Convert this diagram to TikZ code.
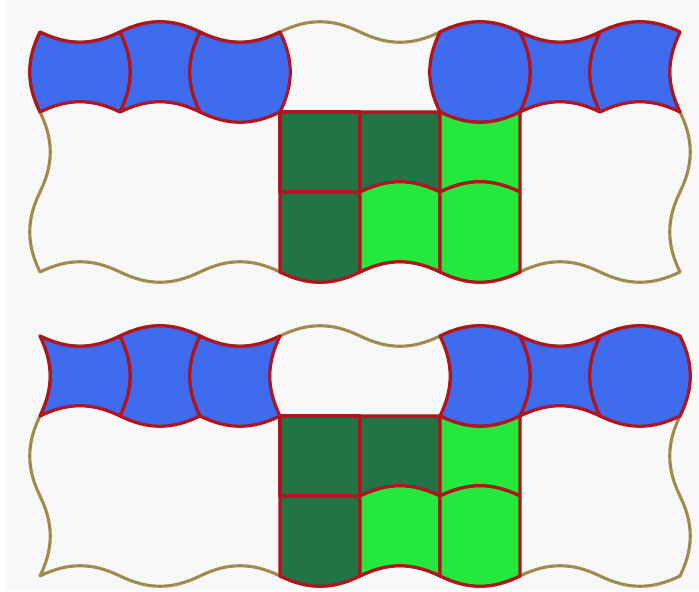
\documentclass[tikz,border=0pt]{standalone}
\usepackage{tikz}
\definecolor{tileBlue}{HTML}{3F6BEF}
\definecolor{darkGreen}{HTML}{237444}
\definecolor{lightGreen}{HTML}{24E83C}
\definecolor{edgeRed}{HTML}{B0141E}
\definecolor{rimTan}{HTML}{A28A4C}
\definecolor{paperGray}{HTML}{F8F8F8}

% one tile: x, y of its top left corner, bulge of top, right, bottom, left edge
% (+1 = up or right, -1 = down or left, 0 = straight), fill colour
\newcommand{\drawtile}[7]{%
  \pgfmathsetmacro\bt{26*#3}\pgfmathsetmacro\br{26*#4}%
  \pgfmathsetmacro\bb{-26*#5}\pgfmathsetmacro\bl{-26*#6}%
  \draw[tileline, fill=#7] (#1,#2) to[bend left=\bt] ++(1,0) to[bend left=\br] ++(0,-1)
    to[bend left=\bb] ++(-1,0) to[bend left=\bl] (#1,#2) -- cycle;}

\begin{document}
\begin{tikzpicture}[
    tileline/.style={draw=edgeRed, line width=1.15pt, line join=round},
    rimline/.style={draw=rimTan, line width=1.1pt, line join=round}]
  \fill[paperGray] (-0.5,0.4) rectangle (8.2375,-6.975);
  \fill[white] (-0.5,0.4) rectangle (-0.4125,-6.975);

  % upper panel
  \draw[rimline] (0,0) to[bend left=-26] (1,0) to[bend left=26] (2,0) to[bend left=-26] (3,0)
    to[bend left=26] (4,0) to[bend left=-26] (5,0) to[bend left=26] (6,0) to[bend left=-26] (7,0)
    to[bend left=26] (8,0) to[bend left=-26] (8,-1) to[bend left=26] (8,-2) to[bend left=-26] (8,-3)
    to[bend left=26] (7,-3) to[bend left=-26] (6,-3) to[bend left=26] (5,-3) to[bend left=-26] (4,-3)
    to[bend left=26] (3,-3) to[bend left=-26] (2,-3) to[bend left=26] (1,-3) to[bend left=-26] (0,-3)
    to[bend left=26] (0,-2) to[bend left=-26] (0,-1) to[bend left=26] (0,0) -- cycle;
  \drawtile{0}{0}{-1}{1}{1}{-1}{tileBlue}
  \drawtile{1}{0}{1}{-1}{1}{1}{tileBlue}
  \drawtile{2}{0}{-1}{1}{-1}{-1}{tileBlue}
  \drawtile{5}{0}{1}{1}{-1}{-1}{tileBlue}
  \drawtile{6}{0}{-1}{-1}{1}{1}{tileBlue}
  \drawtile{7}{0}{1}{-1}{1}{-1}{tileBlue}
  \drawtile{3}{-1}{0}{0}{0}{0}{darkGreen}
  \drawtile{4}{-1}{0}{0}{1}{0}{darkGreen}
  \drawtile{5}{-1}{-1}{0}{1}{0}{lightGreen}
  \drawtile{3}{-2}{0}{0}{-1}{0}{darkGreen}
  \drawtile{4}{-2}{1}{0}{1}{0}{lightGreen}
  \drawtile{5}{-2}{1}{0}{-1}{0}{lightGreen}

  % lower panel
  \begin{scope}[yshift=-3.8cm]
    \draw[rimline] (0,0) to[bend left=-26] (1,0) to[bend left=26] (2,0) to[bend left=-26] (3,0)
      to[bend left=26] (4,0) to[bend left=-26] (5,0) to[bend left=26] (6,0) to[bend left=-26] (7,0)
      to[bend left=26] (8,0) to[bend left=26] (8,-1) to[bend left=-26] (8,-2) to[bend left=26] (8,-3)
      to[bend left=26] (7,-3) to[bend left=-26] (6,-3) to[bend left=26] (5,-3) to[bend left=-26] (4,-3)
      to[bend left=26] (3,-3) to[bend left=-26] (2,-3) to[bend left=26] (1,-3) to[bend left=-26] (0,-3)
      to[bend left=-26] (0,-2) to[bend left=26] (0,-1) to[bend left=-26] (0,0) -- cycle;
    \drawtile{0}{0}{-1}{1}{1}{1}{tileBlue}
    \drawtile{1}{0}{1}{-1}{-1}{1}{tileBlue}
    \drawtile{2}{0}{-1}{-1}{-1}{-1}{tileBlue}
    \drawtile{5}{0}{1}{1}{-1}{1}{tileBlue}
    \drawtile{6}{0}{-1}{-1}{1}{1}{tileBlue}
    \drawtile{7}{0}{1}{1}{-1}{-1}{tileBlue}
    \drawtile{3}{-1}{0}{0}{0}{0}{darkGreen}
    \drawtile{4}{-1}{0}{0}{1}{0}{darkGreen}
    \drawtile{5}{-1}{-1}{0}{1}{0}{lightGreen}
    \drawtile{3}{-2}{0}{0}{-1}{0}{darkGreen}
    \drawtile{4}{-2}{1}{0}{1}{0}{lightGreen}
    \drawtile{5}{-2}{1}{0}{-1}{0}{lightGreen}
  \end{scope}
\end{tikzpicture}
\end{document}
